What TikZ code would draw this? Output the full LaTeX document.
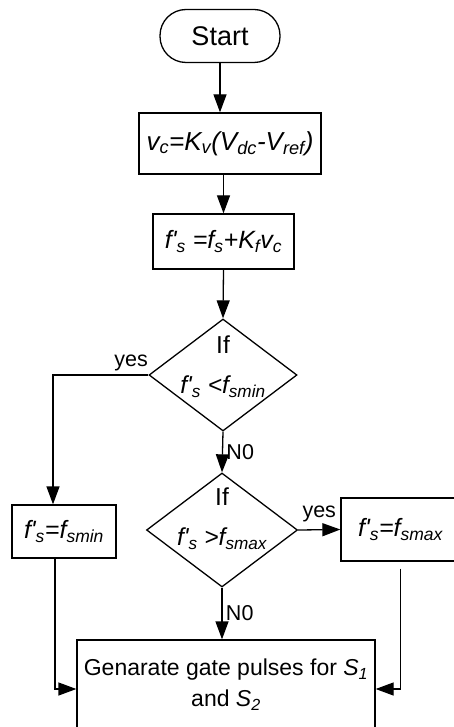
\documentclass[tikz,border=0pt]{standalone}
\usepackage{fontspec}
\setmainfont{Liberation Sans}
\usepackage{tikz}
\usetikzlibrary{shapes, arrows.meta, positioning, calc}

\newcommand{\sub}[1]{\textsubscript{#1}}
\newcommand{\fp}{f\textquotesingle}

\begin{document}
\begin{tikzpicture}[
        x=1pt, y=-1pt,
        line width=1.3pt,
        every node/.style={font=\fontsize{21.5}{31}\selectfont},
        proc/.style={rectangle, draw, inner sep=0pt, align=center},
        term/.style={proc, rounded corners=26pt},
        decision/.style={diamond, draw, inner sep=0pt},
        flow/.style={-{Triangle[length=18pt,width=13pt]}}
    ]
    \useasboundingbox (0,0) rectangle (454,727);

    % main column
    \node[term, minimum width=120pt, minimum height=53pt, font=\fontsize{27}{30}\selectfont] (start) at (220,36) {Start};
    \node[proc, minimum width=182pt, minimum height=61pt, font=\fontsize{26}{30}\selectfont\itshape] (vc) at (230,143.5) {v\sub{c}=K\sub{v}(V\sub{dc}-V\sub{ref})};
    \node[proc, minimum width=141pt, minimum height=55pt, font=\fontsize{25}{30}\selectfont\itshape] (fs) at (223.5,241.5) {\fp\sub{s} =f\sub{s}+K\sub{f}v\sub{c}};

    % decisions
    \node[decision, minimum width=148pt, minimum height=112pt,
        label={[font=\fontsize{24.5}{40}\selectfont, align=center, yshift=8pt]center:{If\\\textit{\fp\sub{s} <f\sub{smin}}}}] (d1) at (223,375) {};
    \node[decision, minimum width=151pt, minimum height=114pt,
        label={[font=\fontsize{24.5}{40}\selectfont, align=center, yshift=11pt]center:{If\\\textit{\fp\sub{s} >f\sub{smax}}}}] (d2) at (222,530) {};

    % limits
    \node[proc, minimum width=104pt, minimum height=53pt, font=\fontsize{25}{30}\selectfont\itshape] (fmin) at (64,531.5) {\fp\sub{s}=f\sub{smin}};
    \node[proc, minimum width=119pt, minimum height=63pt, font=\fontsize{25}{30}\selectfont\itshape] (fmax) at (400.5,529.5) {\fp\sub{s}=f\sub{smax}};

    \node[proc, minimum width=298pt, minimum height=90pt, font=\fontsize{23}{31}\selectfont] (gate) at (226,685) {Genarate gate pulses for \textit{S\sub{1}}\\and \textit{S\sub{2}}};

    \draw[flow] (start) -- (start |- vc.north);
    \draw[flow] (fs |- vc.south) -- (fs.north);
    \draw[flow] (fs.south) -- (d1.north);
    \draw[flow] (d1.west) -| ([xshift=-11pt]fmin.north) node[pos=0.09, above] (yes1) {yes};
    \draw[flow] (d1.south) -- (d2.north) node[midway, right] (no1) {N0};
    \draw[flow] (d2.east) -- (fmax.west) node[midway, above=4pt] (yes2) {yes};
    \draw[flow] (d2.south) -- (d2.south |- gate.north) node[midway, right] (no2) {N0};

    % back into the pulse block
    \coordinate (fmaxout) at ([yshift=-7pt]fmax.south);
    \draw[flow] ([xshift=-9pt]fmin.south) |- ([yshift=-4pt]gate.west);
    \draw[flow] (fmaxout) |- ([yshift=-4pt]gate.east);

\end{tikzpicture}
\end{document}
